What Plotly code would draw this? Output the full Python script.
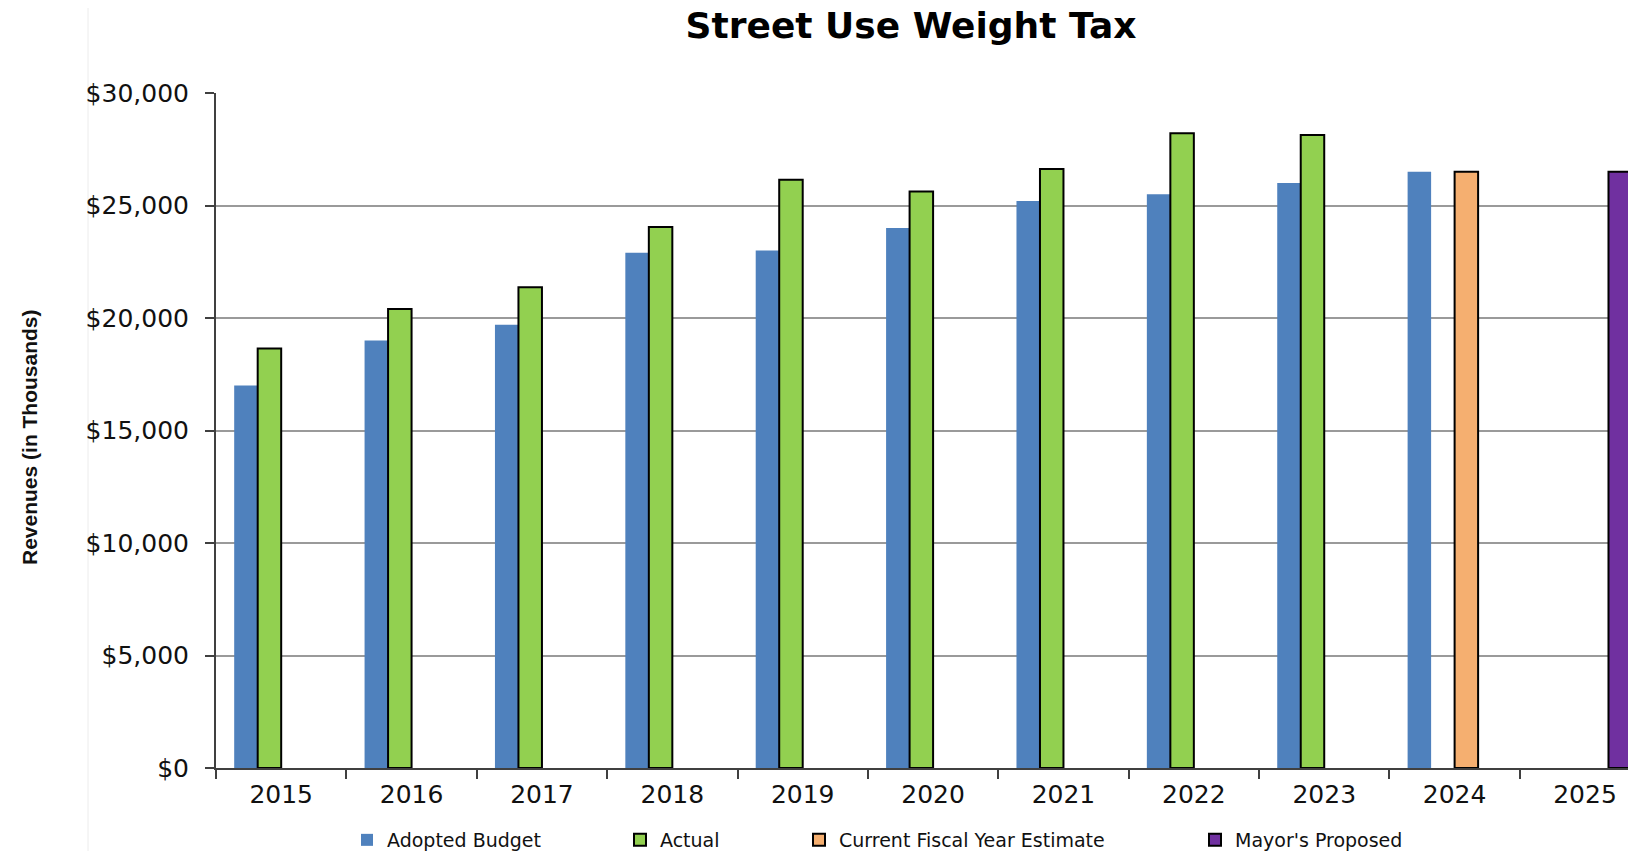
import plotly.graph_objects as go

years = ["2015", "2016", "2017", "2018", "2019", "2020", "2021", "2022", "2023", "2024", "2025"]
adopted_budget = [17000, 19000, 19700, 22900, 23000, 24000, 25200, 25500, 26000, 26500, None]
actual = [18650, 20400, 21370, 24050, 26150, 25620, 26620, 28210, 28130, None, None]
current_estimate = [None, None, None, None, None, None, None, None, None, 26500, None]
mayors_proposed = [None, None, None, None, None, None, None, None, None, None, 26500]
y_tick_vals = [0, 5000, 10000, 15000, 20000, 25000, 30000]
y_tick_text = ["$0", "$5,000", "$10,000", "$15,000", "$20,000", "$25,000", "$30,000"]

W, H = 1636, 851
OFF = 8  # page body margin
L, T = 216 - OFF, 93 - OFF
B = H - (768 - OFF)
R = W - (1636 - OFF)
plot_w = W - L - R
plot_h = H - T - B
cat_px = 130.38

TXT = "DejaVu Sans, Verdana, sans-serif"

fig = go.Figure()
fig.add_trace(go.Bar(x=years, y=adopted_budget, name="Adopted Budget",
                     marker=dict(color="#4F81BD", line=dict(width=0)), legend="legend"))
fig.add_trace(go.Bar(x=years, y=actual, name="Actual",
                     marker=dict(color="#92D050", line=dict(color="#000000", width=2)), legend="legend2"))
fig.add_trace(go.Bar(x=years, y=current_estimate, name="Current Fiscal Year Estimate",
                     marker=dict(color="#F5AF70", line=dict(color="#000000", width=2)), legend="legend3"))
fig.add_trace(go.Bar(x=years, y=mayors_proposed, name="Mayor's Proposed",
                     marker=dict(color="#7030A0", line=dict(color="#000000", width=2)), legend="legend4"))

leg_common = dict(orientation="h", xref="container", yref="container", xanchor="left",
                  yanchor="middle", y=(H - (840 - OFF)) / H, bgcolor="rgba(0,0,0,0)",
                  font=dict(family=TXT, size=19, color="#111111"), itemwidth=30)
text_lefts = [386, 659, 838, 1234]

def leg_x(px):
    return (px - OFF - 39) / W

fig.update_layout(
    width=W, height=H,
    margin=dict(l=L, r=R, t=T, b=B, autoexpand=False),
    paper_bgcolor="white", plot_bgcolor="white",
    barmode="group", bargap=0.279, bargroupgap=0,
    title=dict(text="<b>Street Use Weight Tax</b>", x=(911 - OFF) / W, xanchor="center",
               xref="container", yref="container", y=1 - (25 - OFF) / H, yanchor="middle",
               font=dict(family="DejaVu Sans, sans-serif", size=36, color="#000000")),
    legend=dict(**leg_common, x=leg_x(text_lefts[0])),
    legend2=dict(**leg_common, x=leg_x(text_lefts[1])),
    legend3=dict(**leg_common, x=leg_x(text_lefts[2])),
    legend4=dict(**leg_common, x=leg_x(text_lefts[3])),
    showlegend=True,
    xaxis=dict(type="category", range=[-0.5, -0.5 + plot_w / cat_px],
               showline=True, linecolor="#404040", linewidth=2,
               ticks="outside", tickson="boundaries", ticklen=9, tickwidth=1.5, tickcolor="#404040",
               tickfont=dict(family=TXT, size=25, color="#111111"), ticklabelstandoff=3,
               showgrid=False, zeroline=False),
    yaxis=dict(range=[0, 30000], tickvals=y_tick_vals, ticktext=y_tick_text,
               showline=True, linecolor="#404040", linewidth=2,
               ticks="outside", ticklen=9, tickwidth=1.5, tickcolor="#404040",
               tickfont=dict(family=TXT, size=25, color="#111111"), ticklabelstandoff=11,
               showgrid=True, gridcolor="#9a9a9a", gridwidth=1.5, zeroline=False),
    annotations=[dict(text="<b>Revenues (in Thousands)</b>", textangle=-90, showarrow=False,
                      xref="paper", yref="paper", x=(29 - OFF - L) / plot_w,
                      y=((768 - OFF) - (437 - OFF)) / plot_h,
                      xanchor="center", yanchor="middle",
                      font=dict(family="Liberation Sans, Arial, sans-serif",
                                size=21, color="#111111"))],
    shapes=[dict(type="line", xref="paper", yref="paper",
                 x0=(88 - OFF - L) / plot_w, x1=(88 - OFF - L) / plot_w,
                 y0=-B / plot_h, y1=(plot_h + T) / plot_h,
                 line=dict(color="#ececec", width=1), layer="below")],
)

fig.write_html("out.html")
